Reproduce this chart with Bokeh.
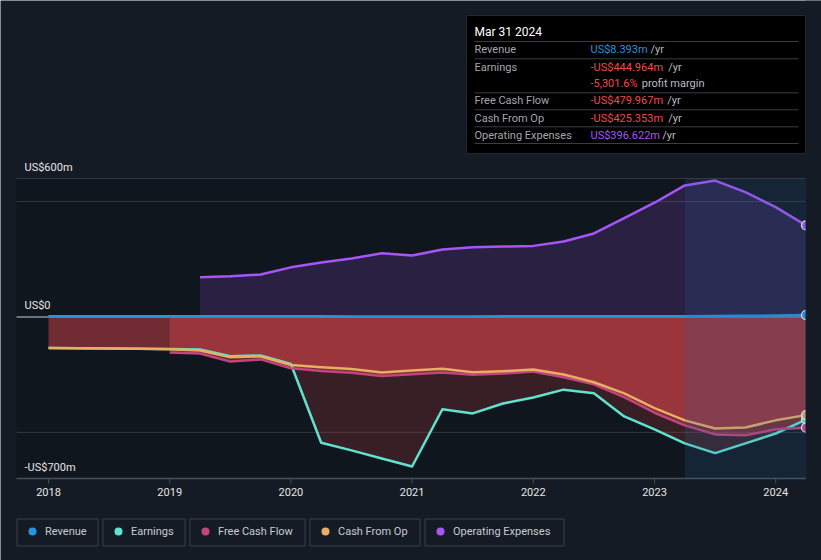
from bokeh.plotting import figure
from bokeh.models import BoxAnnotation, Range1d
from bokeh.core.properties import value
from bokeh.embed import file_html
from bokeh.resources import INLINE

BG = "#151b24"
FONT = "Roboto"

# ---------------- data (US$ m, trailing twelve months, quarterly) ----------------
quarters = [2018.0, 2018.25, 2018.5, 2018.75, 2019.0, 2019.25, 2019.5, 2019.75,
            2020.0, 2020.25, 2020.5, 2020.75, 2021.0, 2021.25, 2021.5, 2021.75,
            2022.0, 2022.25, 2022.5, 2022.75, 2023.0, 2023.25, 2023.5, 2023.75,
            2024.0, 2024.25]
revenue = [3, 3, 3, 3, 3, 3, 3, 3, 3, 3, 2, 2, 2, 2, 2, 3,
           3, 3, 3, 3, 3, 3, 4, 5, 6, 8.393]
earnings = [-135, -136, -137, -138, -139, -141, -170, -167, -204, -545, -578, -613,
            -648, -400, -418, -375, -349, -315, -331, -431, -487, -548, -590, -548,
            -505, -444.964]
cash_from_op = [-135, -136, -137, -138, -140, -145, -175, -171, -208, -218, -226, -241,
                -232, -224, -240, -235, -228, -249, -283, -331, -395, -448, -483, -479,
                -448, -425.353]
fcf_quarters = quarters[4:]
free_cash_flow = [-154, -158, -193, -184, -222, -234, -242, -256, -248, -241, -250,
                  -245, -236, -261, -292, -347, -415, -470, -509, -513, -487, -479.967]
opex_quarters = quarters[5:]
operating_expenses = [172, 176, 184, 215, 236, 253, 276, 266, 292, 302, 305, 308,
                      327, 362, 428, 495, 570, 591, 541, 476, 396.622]

year_ticks = [2018, 2019, 2020, 2021, 2022, 2023, 2024]
year_labels = ["2018", "2019", "2020", "2021", "2022", "2023", "2024"]
y_tick_values = [600, 0, -700]
y_tick_labels = ["US$600m", "US$0", "-US$700m"]
grid_values = [600, 500, -500]
highlight_start = 2023.25

series_names = ["Revenue", "Earnings", "Free Cash Flow", "Cash From Op", "Operating Expenses"]
series_colors = ["#2394df", "#5fe3d0", "#c4437e", "#e8ae63", "#a855f7"]

tooltip_date = "Mar 31 2024"
tooltip_labels = ["Revenue", "Earnings", "", "Free Cash Flow", "Cash From Op", "Operating Expenses"]
tooltip_values = ["US$8.393m", "-US$444.964m", "-5,301.6%", "-US$479.967m",
                  "-US$425.353m", "US$396.622m"]
tooltip_suffix = ["/yr", "/yr", "profit margin", "/yr", "/yr", "/yr"]
tooltip_colors = ["#2394df", "#f04a4a", "#f04a4a", "#f04a4a", "#f04a4a", "#a855f7"]

# ---------------- geometry (page pixels) ----------------
W, H = 821, 560
PX_PER_YEAR = 121.2
M_PER_PX = 1300 / 300                       # 600 .. -700 over 300 px
x_frame_left = 2018 - 48 / PX_PER_YEAR      # page x = 0
x_plot_left = 2018 - 32 / PX_PER_YEAR       # page x = 16
x_end = quarters[-1]                        # page x = 805
x_frame_right = 2018 + (W - 48) / PX_PER_YEAR
AXIS_PY = 478                               # page y of the -700 line / axis

p = figure(width=W, height=H, x_range=Range1d(x_frame_left, x_frame_right),
           y_range=Range1d(-700 - (H - AXIS_PY) * M_PER_PX, 600 + 178 * M_PER_PX),
           output_backend="svg", toolbar_location=None, x_axis_location=None,
           y_axis_location=None, min_border=0, min_border_left=0, min_border_right=0,
           min_border_top=0, min_border_bottom=0, background_fill_color=BG,
           border_fill_color=BG, outline_line_color=None, title=None)
for g in p.grid:
    g.visible = False
p.extra_x_ranges = {"px": Range1d(0, W)}
p.extra_y_ranges = {"py": Range1d(H, 0)}
PXR = dict(x_range_name="px", y_range_name="py")

# plot-area background
p.add_layout(BoxAnnotation(left=x_plot_left, right=x_end, top=600, bottom=-700,
                           fill_color="#0a0d12", fill_alpha=0.35, line_color=None,
                           level="underlay"))

# grid lines and zero line
p.segment(x0=[x_plot_left] * len(grid_values), x1=[x_end] * len(grid_values),
          y0=grid_values, y1=grid_values, line_color="#323741", line_width=1)
p.segment(x0=[x_plot_left], x1=[x_end], y0=[0], y1=[0], line_color="#8e939b", line_width=1.5)

# area fills
p.varea(x=quarters, y1=0, y2=earnings, fill_color="#e5484d", fill_alpha=0.19)
p.varea(x=quarters, y1=0, y2=cash_from_op, fill_color="#e5484d", fill_alpha=0.32)
p.varea(x=fcf_quarters, y1=0, y2=free_cash_flow, fill_color="#e5484d", fill_alpha=0.35)
p.varea(x=opex_quarters, y1=0, y2=operating_expenses, fill_color="#a855f7", fill_alpha=0.17)

# lines
p.line(opex_quarters, operating_expenses, line_color=series_colors[4], line_width=2.5,
       line_join="round")
p.line(quarters, earnings, line_color=series_colors[1], line_width=2.5, line_join="round")
p.line(fcf_quarters, free_cash_flow, line_color=series_colors[2], line_width=2.5,
       line_join="round")
p.line(quarters, cash_from_op, line_color=series_colors[3], line_width=2.5, line_join="round")
p.line(quarters, revenue, line_color=series_colors[0], line_width=2.5, line_join="round")

# end markers
end_vals = [revenue[-1], earnings[-1], free_cash_flow[-1], cash_from_op[-1],
            operating_expenses[-1]]
p.scatter(x=[quarters[-1]] * 5, y=end_vals, size=9, fill_color=series_colors,
          line_color="#ffffff", line_width=1.2)

# last-year highlight
p.add_layout(BoxAnnotation(left=highlight_start, right=x_end, top=600, bottom=-700,
                           fill_color="#2a6aa8", fill_alpha=0.18, line_color=None))

# plot area ends at the last data date: mask the strip to its right
p.quad(left=[805], right=[W], top=[0], bottom=[H], fill_color=BG, line_color=None, **PXR)

# y labels
p.text(x=[x_plot_left] * 3, y=y_tick_values, text=y_tick_labels, x_offset=8, y_offset=-5,
       text_baseline="bottom", text_align="left", text_font=value(FONT),
       text_font_size="11px", text_color="#e6e6e6")

# x axis: line, ticks and labels on the data x scale
p.segment(x0=[x_plot_left], x1=[x_end], y0=[AXIS_PY], y1=[AXIS_PY], line_color="#4a4f58",
          line_width=1.5, y_range_name="py")
p.segment(x0=year_ticks, x1=year_ticks, y0=[AXIS_PY] * 7, y1=[AXIS_PY + 5] * 7,
          line_color="#4a4f58", line_width=1, y_range_name="py")
p.text(x=year_ticks, y=[491] * 7, text=year_labels, text_align="center",
       text_baseline="middle", text_font=value(FONT), text_font_size="11px",
       text_color="#e6e6e6", y_range_name="py")

# ---------------- tooltip panel (page pixel coordinates) ----------------
p.quad(left=[466], right=[805], top=[15], bottom=[153], fill_color="#000000",
       line_color="#23272e", line_width=1, **PXR)
p.text(x=[474], y=[31], text=[tooltip_date], text_font=value(FONT), text_font_size="12px",
       text_color="#ffffff", text_baseline="middle", text_align="left", **PXR)
sep_y = [41, 58.3, 92.3, 109.3, 126.3, 143]
p.segment(x0=[474] * len(sep_y), x1=[798] * len(sep_y), y0=sep_y, y1=sep_y,
          line_color="#3a3d43", line_width=1, **PXR)
row_y = [49, 66.7, 83.3, 100, 117.7, 135]
suffix_x = [650, 667.7, 641.3, 666.7, 667.7, 661.7]
p.text(x=[474] * 6, y=row_y, text=tooltip_labels, text_font=value(FONT),
       text_font_size="11px", text_color="#a3a7ad", text_baseline="middle",
       text_align="left", **PXR)
p.text(x=[590] * 6, y=row_y, text=tooltip_values, text_font=value(FONT),
       text_font_size="11px", text_color=tooltip_colors, text_baseline="middle",
       text_align="left", **PXR)
p.text(x=suffix_x, y=row_y, text=tooltip_suffix, text_font=value(FONT),
       text_font_size="11px", text_color="#b8bcc2", text_baseline="middle",
       text_align="left", **PXR)

# ---------------- legend boxes below the axis ----------------
box_left = [16.5, 102.5, 189.5, 309.5, 424.5]
box_right = [97.5, 184.5, 304.5, 419.5, 563.5]
p.quad(left=box_left, right=box_right, top=[518.5] * 5, bottom=[545.5] * 5,
       fill_alpha=0, line_color="#3a404a", line_width=1, **PXR)
p.scatter(x=[b + 15.5 for b in box_left], y=[531] * 5, size=8, fill_color=series_colors,
          line_color=None, **PXR)
p.text(x=[b + 28 for b in box_left], y=[531] * 5, text=series_names, text_font=value(FONT),
       text_font_size="11px", text_color="#c8ccd2", text_baseline="middle",
       text_align="left", **PXR)

open("out.html", "w").write(file_html(p, INLINE))
